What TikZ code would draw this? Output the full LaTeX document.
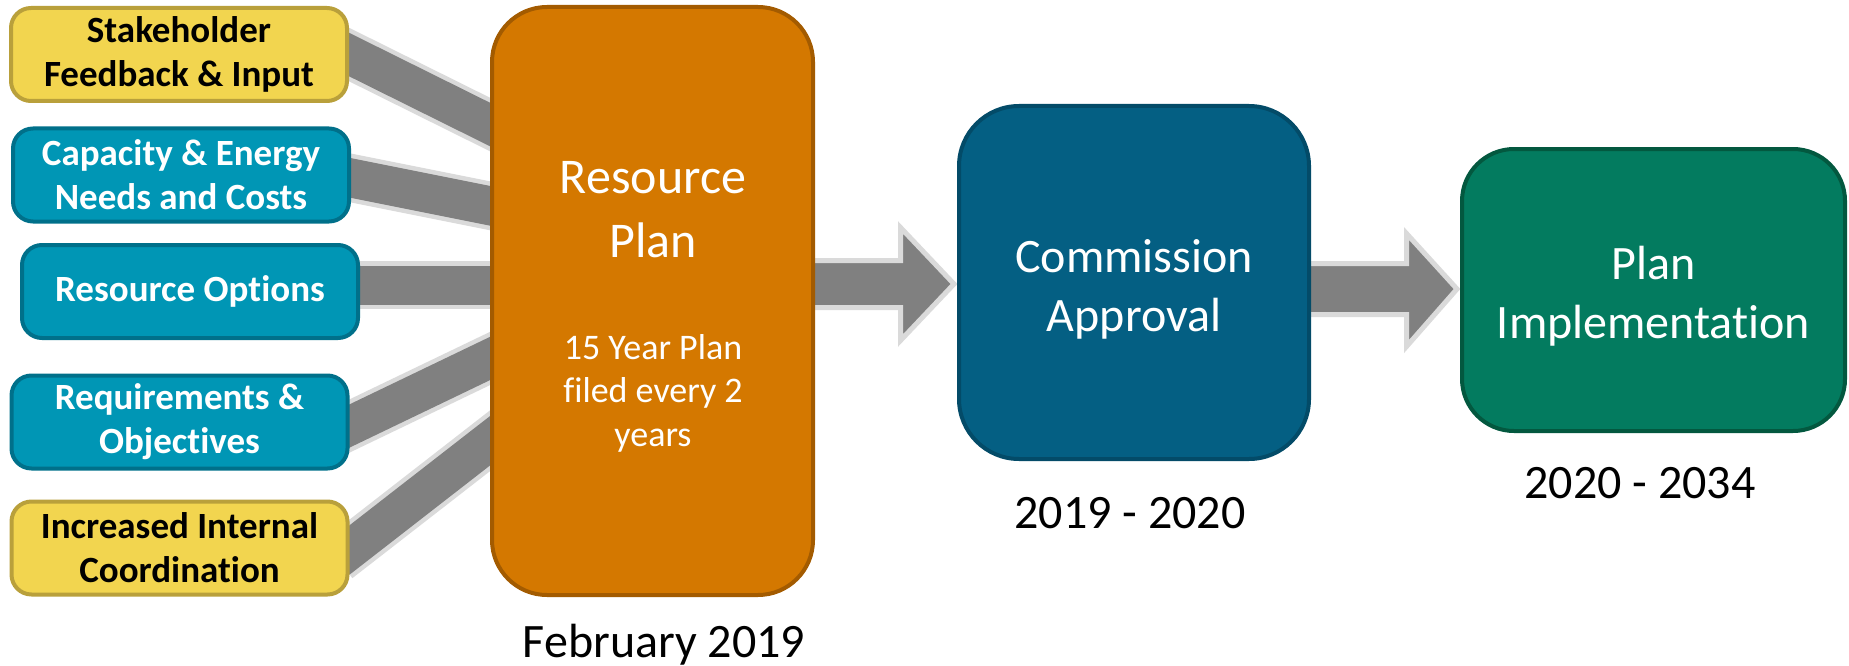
\documentclass[tikz,border=0pt]{standalone}
\usepackage{fontspec}
\setmainfont{Carlito}[Ligatures={NoCommon,NoContextual}]
\usetikzlibrary{calc,backgrounds}
\definecolor{ylwfill}{HTML}{F2D54F}
\definecolor{ylwdraw}{HTML}{B9A03B}
\definecolor{tealfill}{HTML}{0096B5}
\definecolor{tealdraw}{HTML}{00708A}
\definecolor{orgfill}{HTML}{D47800}
\definecolor{orgdraw}{HTML}{A35B00}
\definecolor{bluefill}{HTML}{045F83}
\definecolor{bluedraw}{HTML}{034B68}
\definecolor{grnfill}{HTML}{037B5F}
\definecolor{grndraw}{HTML}{03583F}
\definecolor{bandgray}{HTML}{808080}
\definecolor{bandedge}{HTML}{DADADA}
\begin{document}
\begin{tikzpicture}[x=1pt,y=-1pt,
  inbox/.style={rounded corners=20pt, line width=4pt, inner sep=0pt, align=center,
    minimum width=336pt, minimum height=93pt, font=\fontsize{37}{44}\selectfont\bfseries},
  yellowbox/.style={inbox, fill=ylwfill, draw=ylwdraw, text=black},
  tealbox/.style={inbox, fill=tealfill, draw=tealdraw, text=white},
  bigbox/.style={line width=4pt, inner sep=0pt},
  bandouter/.style={line width=48pt, draw=bandedge, shorten <=-15pt, shorten >=-30pt},
  bandinner/.style={line width=39pt, draw=bandgray, shorten <=-15pt, shorten >=-30pt},
  bigtext/.style={text=white, align=center, font=\fontsize{48}{59}\selectfont},
  datetext/.style={text=black, anchor=base, font=\fontsize{48}{58}\selectfont},
  arrowshape/.style={fill=bandgray, draw=bandedge, line width=5pt, line join=miter}
]
\useasboundingbox (0,0) rectangle (1849,666);

% input boxes
\node[yellowbox] (sh)  at (179,54.5) {Stakeholder\\Feedback \& Input};
\node[tealbox]   (cap) at (181,175)  {Capacity \& Energy\\Needs and Costs};
\node[tealbox]   (ro)  at (190,291.5){Resource Options};
\node[tealbox]   (req) at (179.5,422){Requirements \&\\Objectives};
\node[yellowbox] (inc) at (179.5,548){Increased Internal\\Coordination};

% main boxes
\node[bigbox, rounded corners=55pt, fill=orgfill, draw=orgdraw,
      minimum width=321pt, minimum height=588pt] (rp) at (652.5,301) {};
\node[bigbox, rounded corners=60pt, fill=bluefill, draw=bluedraw,
      minimum width=350pt, minimum height=353pt] (ca) at (1134,282.5) {};
\node[bigbox, rounded corners=52pt, fill=grnfill, draw=grndraw,
      minimum width=383pt, minimum height=282pt] (pi) at (1653.5,290) {};

% texts in boxes
\node[bigtext, font=\fontsize{50}{64}\selectfont] (rpt) at (653,210) {Resource\\Plan};
\node[text=white, align=center, font=\fontsize{36}{43.5}\selectfont] (rps) at (653,393) {15 Year Plan\\filed every 2\\years};
\node[bigtext] (cat) at (1134,289) {Commission\\Approval};
\node[bigtext] (pit) at (1653.5,296) {Plan\\Implementation};

% dates
\node[datetext] (d1) at (664,657) {February 2019};
\node[datetext] (d2) at (1130,528) {2019 - 2020};
\node[datetext] (d3) at (1640,498) {2020 - 2034};

% connector end points
\coordinate (in1) at (491,125);
\coordinate (in2) at (491,206);
\coordinate (in3) at (491,285);
\coordinate (in4) at (491,358);
\coordinate (in5) at (491,440);
\coordinate (out2) at ($(cap.east)+(0,3)$);
\coordinate (out3) at (ro.east|-in3);
\coordinate (out4) at ($(req.east)+(0,4)$);
\coordinate (out5) at ($(inc.east)+(0,2)$);
\coordinate (a1) at (0,284);
\coordinate (a2) at (0,289);
\begin{scope}[on background layer]
  \draw[bandouter] (sh.east) -- (in1);  \draw[bandinner] (sh.east) -- (in1);
  \draw[bandouter] (out2) -- (in2);     \draw[bandinner] (out2) -- (in2);
  \draw[bandouter] (out3) -- (in3);     \draw[bandinner] (out3) -- (in3);
  \draw[bandouter] (out4) -- (in4);     \draw[bandinner] (out4) -- (in4);
  \draw[bandouter] (out5) -- (in5);     \draw[bandinner] (out5) -- (in5);
  \draw[arrowshape] ($(rp.east|-a1)+(-10,-23.5)$) -- (900.5,260.5) -- (900.5,227.5)
     -- ($(ca.west|-a1)+(-3,0)$) -- (900.5,340.5) -- (900.5,307.5)
     -- ($(rp.east|-a1)+(-10,23.5)$) -- cycle;
  \draw[arrowshape] ($(ca.east|-a2)+(-10,-25.5)$) -- (1406.5,263.5) -- (1406.5,233.5)
     -- ($(pi.west|-a2)+(-3,0)$) -- (1406.5,346.5) -- (1406.5,314.5)
     -- ($(ca.east|-a2)+(-10,25.5)$) -- cycle;
\end{scope}
\end{tikzpicture}
\end{document}
